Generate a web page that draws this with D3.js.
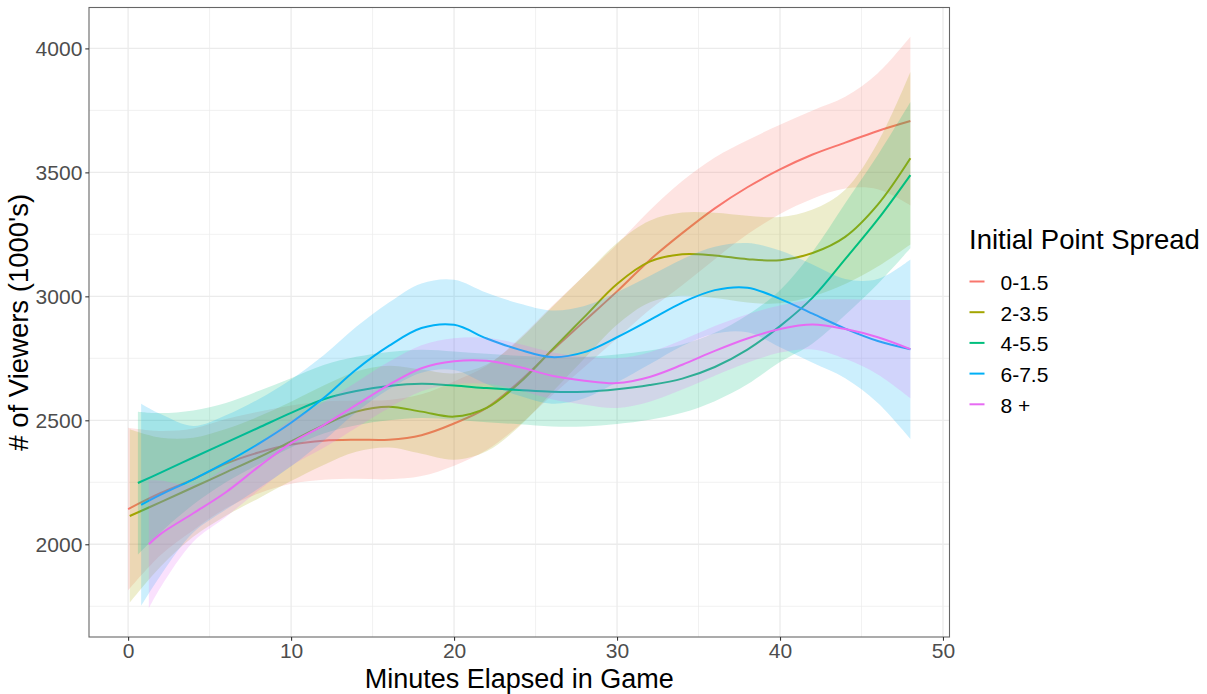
<!DOCTYPE html>
<html><head><meta charset="utf-8">
<script src="https://cdn.jsdelivr.net/npm/d3@7"></script>
<style>
body{margin:0;background:#fff}
svg{display:block}
text{font-family:"Liberation Sans",Arial,Helvetica,sans-serif}
</style>
</head><body>
<svg id="chart" width="1207" height="694"></svg>
<script>
// ---- data ----
const groups = ["0-1.5", "2-3.5", "4-5.5", "6-7.5", "8 +"];
const colors = ["#F8766D", "#A3A500", "#00BF7D", "#00B0F6", "#E76BF3"];
const startMinute = [0, 0.1, 0.6, 0.8, 1.27];
const gridMinutes = [2,4,6,8,10,12,14,16,18,20,22,24,26,28,30,32,34,36,38,40,42,44,46,48];

const fit_0_1_5   = [2142,2207,2262,2325,2370,2402,2418,2422,2422,2440,2487,2550,2655,2780,2900,3020,3146,3255,3355,3440,3512,3572,3620,3667,3707];
const upper_0_1_5 = [2470,2457,2467,2505,2535,2560,2576,2580,2582,2605,2657,2720,2830,2960,3085,3210,3346,3465,3560,3630,3692,3750,3805,3900,4047];
const lower_0_1_5 = [1814,1957,2057,2145,2205,2244,2260,2264,2262,2275,2317,2380,2480,2600,2715,2830,2946,3045,3150,3250,3332,3394,3435,3432,3367];

const fit_2_3_5   = [2114,2170,2230,2290,2350,2415,2480,2535,2555,2535,2515,2550,2650,2784,2917,3050,3140,3170,3165,3150,3146,3175,3240,3370,3557];
const upper_2_3_5 = [2464,2430,2430,2465,2515,2575,2640,2697,2720,2705,2689,2725,2825,2956,3085,3215,3305,3338,3337,3325,3320,3350,3430,3620,3905];
const lower_2_3_5 = [1764,1910,2030,2115,2185,2255,2320,2373,2390,2365,2341,2375,2475,2612,2749,2885,2975,3002,2993,2975,2972,3000,3050,3120,3209];

const fit_4_5_5   = [2247,2289,2350,2410,2470,2530,2585,2618,2638,2647,2640,2630,2622,2615,2615,2625,2642,2668,2715,2785,2880,2995,3150,3310,3489];
const upper_4_5_5 = [2535,2529,2540,2570,2618,2670,2723,2756,2776,2785,2778,2768,2760,2755,2755,2765,2782,2806,2853,2925,3025,3180,3375,3570,3784];
const lower_4_5_5 = [1959,2049,2160,2250,2322,2390,2447,2480,2500,2509,2502,2492,2484,2475,2475,2485,2502,2530,2577,2645,2735,2810,2925,3050,3194];

const fit_6_7_5   = [2159,2200,2262,2330,2405,2490,2590,2705,2800,2872,2885,2830,2785,2755,2775,2835,2904,2975,3025,3035,2990,2930,2870,2820,2787];
const upper_6_7_5 = [2567,2525,2477,2520,2585,2665,2762,2877,2975,3052,3067,3014,2971,2943,2961,3017,3082,3150,3200,3215,3185,3128,3070,3070,3149];
const lower_6_7_5 = [1751,1875,2047,2140,2225,2315,2418,2533,2625,2692,2703,2646,2599,2567,2589,2653,2726,2800,2850,2855,2795,2732,2670,2570,2425];

const fit_8p   = [2000,2042,2125,2210,2312,2408,2481,2562,2643,2710,2738,2740,2715,2680,2660,2650,2675,2724,2780,2830,2868,2886,2868,2835,2787];
const upper_8p = [2258,2257,2240,2310,2407,2500,2573,2654,2736,2803,2831,2833,2808,2775,2757,2750,2775,2824,2880,2928,2963,2986,2988,2985,2985];
const lower_8p = [1742,1827,2010,2110,2217,2316,2389,2470,2550,2617,2645,2647,2622,2585,2563,2550,2575,2624,2680,2732,2773,2786,2748,2685,2589];

const xTicks = [0, 10, 20, 30, 40, 50];
const xMinor = [5, 15, 25, 35, 45];
const yTicks = [2000, 2500, 3000, 3500, 4000];
const yMinor = [1750, 2250, 2750, 3250, 3750];

const fits = [fit_0_1_5, fit_2_3_5, fit_4_5_5, fit_6_7_5, fit_8p];
const uppers = [upper_0_1_5, upper_2_3_5, upper_4_5_5, upper_6_7_5, upper_8p];
const lowers = [lower_0_1_5, lower_2_3_5, lower_4_5_5, lower_6_7_5, lower_8p];

// ---- layout ----
const P = {left: 89, right: 949.5, top: 7.5, bottom: 637};
const svg = d3.select("#chart");
const x = d3.scaleLinear().domain([-2.4, 50.4]).range([P.left, P.right]);
const y = d3.scaleLinear().domain([1626, 4165]).range([P.bottom, P.top]);

const grid = svg.append("g");
grid.selectAll(".vmin").data(xMinor).join("line")
  .attr("x1", d => x(d)).attr("x2", d => x(d)).attr("y1", P.top).attr("y2", P.bottom)
  .attr("stroke", "#EBEBEB").attr("stroke-width", 0.7);
grid.selectAll(".hmin").data(yMinor).join("line")
  .attr("y1", d => y(d)).attr("y2", d => y(d)).attr("x1", P.left).attr("x2", P.right)
  .attr("stroke", "#EBEBEB").attr("stroke-width", 0.7);
grid.selectAll(".vmaj").data(xTicks).join("line")
  .attr("x1", d => x(d)).attr("x2", d => x(d)).attr("y1", P.top).attr("y2", P.bottom)
  .attr("stroke", "#EBEBEB").attr("stroke-width", 1.3);
grid.selectAll(".hmaj").data(yTicks).join("line")
  .attr("y1", d => y(d)).attr("y2", d => y(d)).attr("x1", P.left).attr("x2", P.right)
  .attr("stroke", "#EBEBEB").attr("stroke-width", 1.3);

const curve = d3.curveCatmullRom.alpha(0.5);
const plot = svg.append("g");
groups.forEach((g, i) => {
  const xs = [startMinute[i]].concat(gridMinutes);
  const pts = xs.map((m, k) => ({m, f: fits[i][k], lo: lowers[i][k], hi: uppers[i][k]}));
  plot.append("path").datum(pts)
    .attr("d", d3.area().x(d => x(d.m)).y0(d => y(d.lo)).y1(d => y(d.hi)).curve(curve))
    .attr("fill", colors[i]).attr("fill-opacity", 0.2).attr("stroke", "none");
  plot.append("path").datum(pts)
    .attr("d", d3.line().x(d => x(d.m)).y(d => y(d.f)).curve(curve))
    .attr("fill", "none").attr("stroke", colors[i]).attr("stroke-width", 2);
});

svg.append("rect").attr("x", P.left).attr("y", P.top)
  .attr("width", P.right - P.left).attr("height", P.bottom - P.top)
  .attr("fill", "none").attr("stroke", "#666").attr("stroke-width", 1.1);

// axes
const xa = svg.append("g").attr("transform", `translate(0,${P.bottom})`)
  .call(d3.axisBottom(x).tickValues(xTicks).tickSize(3.7).tickPadding(2.8).tickFormat(d3.format("d")));
const ya = svg.append("g").attr("transform", `translate(${P.left},0)`)
  .call(d3.axisLeft(y).tickValues(yTicks).tickSize(3.7).tickPadding(3.0).tickFormat(d3.format("d")));
[xa, ya].forEach(a => {
  a.select(".domain").remove();
  a.selectAll(".tick line").attr("stroke", "#333").attr("stroke-width", 1.1);
  a.selectAll(".tick text").attr("fill", "#4D4D4D").style("font-size", "21px")
    .style("font-family", '"Liberation Sans",Arial,sans-serif');
});

svg.append("text").attr("x", (P.left + P.right) / 2).attr("y", 687.5)
  .attr("text-anchor", "middle").style("font-size", "27px").attr("fill", "#000")
  .text("Minutes Elapsed in Game");
svg.append("text").attr("transform", `translate(28,${(P.top + P.bottom) / 2}) rotate(-90)`)
  .attr("text-anchor", "middle").style("font-size", "27.5px").attr("fill", "#000")
  .text("# of Viewers (1000's)");

// legend
const lg = svg.append("g");
lg.append("text").attr("x", 969).attr("y", 248.5).style("font-size", "27.5px").attr("fill", "#000")
  .text("Initial Point Spread");
groups.forEach((g, i) => {
  const cy = 281.5 + i * 30.7;
  lg.append("line").attr("x1", 969.5).attr("x2", 984.5).attr("y1", cy).attr("y2", cy)
    .attr("stroke", colors[i]).attr("stroke-width", 2);
  lg.append("text").attr("x", 1000.5).attr("y", cy + 8.3).style("font-size", "21px").attr("fill", "#000")
    .text(g);
});
</script>
</body></html>
